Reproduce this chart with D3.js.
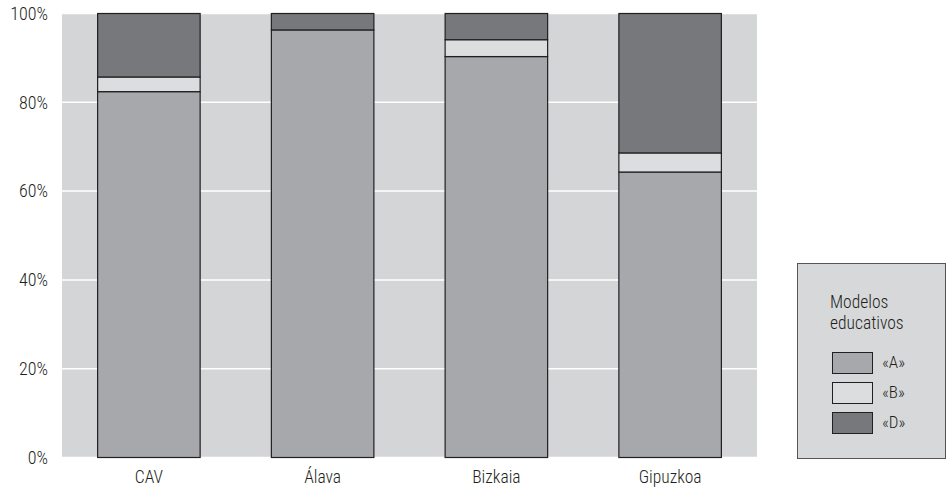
<!DOCTYPE html>
<html><head><meta charset="utf-8">
<script src="https://cdn.jsdelivr.net/npm/d3@7"></script>
<style>
body{margin:0;background:#fff;}
text{font-family:"Liberation Sans Narrow","Roboto Condensed","Liberation Sans",Arial,sans-serif;fill:#231f20;font-weight:300;}
</style></head>
<body><svg id="c" width="947" height="494"></svg>
<script>
const categories = ["CAV","Álava","Bizkaia","Gipuzkoa"];
const seriesNames = ["«A»","«B»","«D»"];
const valuesA = [82.4, 96.3, 90.3, 64.3];
const valuesB = [3.3, 0, 3.8, 4.3];
const valuesD = [14.3, 3.7, 5.9, 31.4];
const yTicks = [0,20,40,60,80,100];
const colors = ["#a7a8ab","#dcdddf","#77787b"];

(function(){
const svg = d3.select("#c");
const pL=62, pR=757, pT=13.5, pB=457.5;
const x = d3.scaleBand().domain(categories).range([pL,pR]).paddingInner(0.41).paddingOuter(0.205);
const y = d3.scaleLinear().domain([0,100]).range([pB,pT]);

svg.append("rect").attr("x",pL).attr("y",pT).attr("width",pR-pL).attr("height",pB-pT).attr("fill","#d4d5d7");
svg.selectAll(".grid").data(yTicks).join("line")
  .attr("x1",pL).attr("x2",pR).attr("y1",d=>y(d)).attr("y2",d=>y(d))
  .attr("stroke","#fff").attr("stroke-width",1.5);

const rows = categories.map((c,i)=>({cat:c,A:valuesA[i],B:valuesB[i],D:valuesD[i]}));
const stack = d3.stack().keys(["A","B","D"])(rows);
stack.forEach((s,si)=>{
  svg.append("g").selectAll("rect").data(s.filter(d=>d[1]-d[0]>0)).join("rect")
    .attr("x",d=>x(d.data.cat)).attr("width",x.bandwidth())
    .attr("y",d=>y(d[1])).attr("height",d=>y(d[0])-y(d[1]))
    .attr("fill",colors[si]).attr("stroke","#231f20").attr("stroke-width",1.2);
});

const yAxis = d3.axisLeft(y).tickValues(yTicks).tickFormat(d=>d+"%").tickSize(0).tickPadding(14);
const ga = svg.append("g").attr("transform",`translate(${pL},0)`).call(yAxis);
ga.select(".domain").remove();
ga.attr("font-family",null);
ga.selectAll("text").attr("font-size",18).attr("fill","#231f20");

const xAxis = d3.axisBottom(x).tickSize(0).tickPadding(13);
const gx = svg.append("g").attr("transform",`translate(0,${pB})`).call(xAxis);
gx.select(".domain").remove();
gx.attr("font-family",null);
gx.selectAll("text").attr("font-size",17.5).attr("fill","#231f20");

const lg = svg.append("g");
lg.append("rect").attr("x",797.5).attr("y",263.5).attr("width",148).attr("height",195).attr("fill","#d7d8da").attr("stroke","#555").attr("stroke-width",1);
lg.append("text").attr("x",830).attr("y",307.5).attr("font-size",17.5).text("Modelos");
lg.append("text").attr("x",830).attr("y",328.5).attr("font-size",17.5).text("educativos");
seriesNames.forEach((n,i)=>{
  const yy = 352 + i*30;
  lg.append("rect").attr("x",832.5).attr("y",yy+0.5).attr("width",40).attr("height",21).attr("fill",colors[i]).attr("stroke","#231f20").attr("stroke-width",1);
  lg.append("text").attr("x",882).attr("y",yy+16).attr("font-size",17).text(n);
});
})();
</script></body></html>
